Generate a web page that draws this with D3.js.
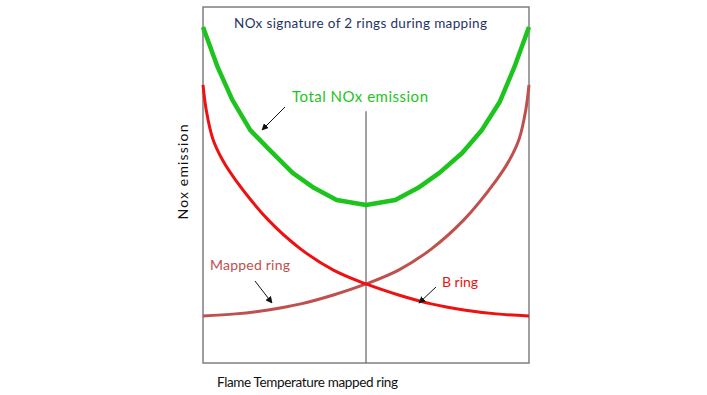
<!DOCTYPE html>
<html>
<head>
<meta charset="utf-8">
<script src="https://cdn.jsdelivr.net/npm/d3@7"></script>
<style>
  body { margin: 0; background: #fff; }
  text { font-family: Lato, "Open Sans", sans-serif; }
</style>
</head>
<body>
<div id="chart"></div>
<script>
// flame temperature positions (0 = lean, 1 = rich) and NOx levels
var totalX = [0, 0.045, 0.09, 0.145, 0.205, 0.275, 0.34, 0.41, 0.5, 0.59, 0.66, 0.725, 0.795, 0.855, 0.91, 0.955, 1];
var totalNox = [94.4, 83.1, 73.9, 65.4, 59.8, 53.4, 49.2, 45.8, 44.4, 45.8, 49.2, 53.4, 59.0, 65.4, 73.3, 83.1, 94.4];

var bRingX = [0, 0.01, 0.03, 0.06, 0.1, 0.2, 0.3, 0.4, 0.5, 0.6, 0.7, 0.8, 0.9, 1];
var bRingNox = [78.1, 71.0, 63.0, 57.0, 51.4, 40.2, 32.0, 26.1, 22.2, 19.1, 16.6, 14.9, 13.8, 13.2];

var mappedX = [0, 0.1, 0.2, 0.3, 0.4, 0.5, 0.6, 0.7, 0.8, 0.9, 0.94, 0.97, 0.99, 1];
var mappedNox = [13.2, 13.8, 14.9, 16.6, 19.1, 22.2, 26.1, 32.0, 40.2, 51.4, 57.0, 63.0, 71.0, 78.1];

var titleText = "NOx signature of 2 rings during mapping";
var xLabel = "Flame Temperature mapped ring";
var yLabel = "Nox emission";

var W = 707, H = 395;
var margin = { top: 7, right: 178, bottom: 32, left: 203 };
var width = W - margin.left - margin.right,
  height = H - margin.top - margin.bottom;

var x = d3.scaleLinear().domain([0, 1]).range([0, width]);
var y = d3.scaleLinear().domain([0, 100]).range([height, 0]);

var svg = d3.select("#chart").append("svg")
  .attr("width", W)
  .attr("height", H);

var defs = svg.append("defs");
defs.append("marker")
  .attr("id", "arrow")
  .attr("viewBox", "0 0 10 10")
  .attr("refX", 9).attr("refY", 5)
  .attr("markerWidth", 7).attr("markerHeight", 7)
  .attr("markerUnits", "userSpaceOnUse")
  .attr("orient", "auto")
  .append("path")
  .attr("d", "M0,0L10,5L0,10z")
  .attr("fill", "#111");

var g = svg.append("g")
  .attr("transform", "translate(" + margin.left + "," + margin.top + ")");

// frame
g.append("rect")
  .attr("x", 0).attr("y", 0)
  .attr("width", width).attr("height", height)
  .attr("fill", "none")
  .attr("stroke", "#7f7f7f")
  .attr("stroke-width", 1.5);

// split line at mid temperature
g.append("line")
  .attr("x1", x(0.5)).attr("x2", x(0.5))
  .attr("y1", y(70.7)).attr("y2", y(0))
  .attr("stroke", "#6f6f6f")
  .attr("stroke-width", 1.3);

function pts(xs, ys) {
  return xs.map(function(d, i) { return [d, ys[i]]; });
}

var smooth = d3.line()
  .x(function(d) { return x(d[0]); })
  .y(function(d) { return y(d[1]); })
  .curve(d3.curveCatmullRom.alpha(0.5));

var straight = d3.line()
  .x(function(d) { return x(d[0]); })
  .y(function(d) { return y(d[1]); });

g.append("path")
  .datum(pts(mappedX, mappedNox))
  .attr("d", smooth)
  .attr("fill", "none")
  .attr("stroke", "#c0504d")
  .attr("stroke-width", 3);

g.append("path")
  .datum(pts(bRingX, bRingNox))
  .attr("d", smooth)
  .attr("fill", "none")
  .attr("stroke", "#ee1111")
  .attr("stroke-width", 3);

g.append("path")
  .datum(pts(totalX, totalNox))
  .attr("d", straight)
  .attr("fill", "none")
  .attr("stroke", "#1ec41e")
  .attr("stroke-width", 4.5)
  .attr("stroke-linejoin", "round");

// labels
svg.append("text")
  .attr("x", 234).attr("y", 28)
  .attr("textLength", 253)
  .attr("font-size", 13.5)
  .attr("fill", "#1f3462")
  .text(titleText);

svg.append("text")
  .attr("x", 292).attr("y", 102)
  .attr("textLength", 136)
  .attr("font-size", 15)
  .attr("fill", "#1ec41e")
  .text("Total NOx emission");

svg.append("text")
  .attr("x", 210).attr("y", 270)
  .attr("textLength", 80)
  .attr("font-size", 14)
  .attr("fill", "#c0504d")
  .text("Mapped ring");

svg.append("text")
  .attr("x", 442).attr("y", 287)
  .attr("textLength", 36)
  .attr("font-size", 14)
  .attr("fill", "#ee1111")
  .text("B ring");

svg.append("text")
  .attr("transform", "translate(188,172) rotate(-90)")
  .attr("text-anchor", "middle")
  .attr("textLength", 95)
  .attr("font-size", 14)
  .attr("fill", "#111")
  .text(yLabel);

svg.append("text")
  .attr("x", 217).attr("y", 387)
  .attr("textLength", 181)
  .attr("font-size", 13.5)
  .attr("fill", "#111")
  .text(xLabel);

// arrows
var arrows = [[285, 107, 262, 130], [255, 281, 272, 303], [436, 287, 419, 303]];
svg.selectAll(".arrow")
  .data(arrows)
  .enter().append("line")
  .attr("class", "arrow")
  .attr("x1", function(d) { return d[0]; })
  .attr("y1", function(d) { return d[1]; })
  .attr("x2", function(d) { return d[2]; })
  .attr("y2", function(d) { return d[3]; })
  .attr("stroke", "#111")
  .attr("stroke-width", 1)
  .attr("marker-end", "url(#arrow)");
</script>
</body>
</html>
